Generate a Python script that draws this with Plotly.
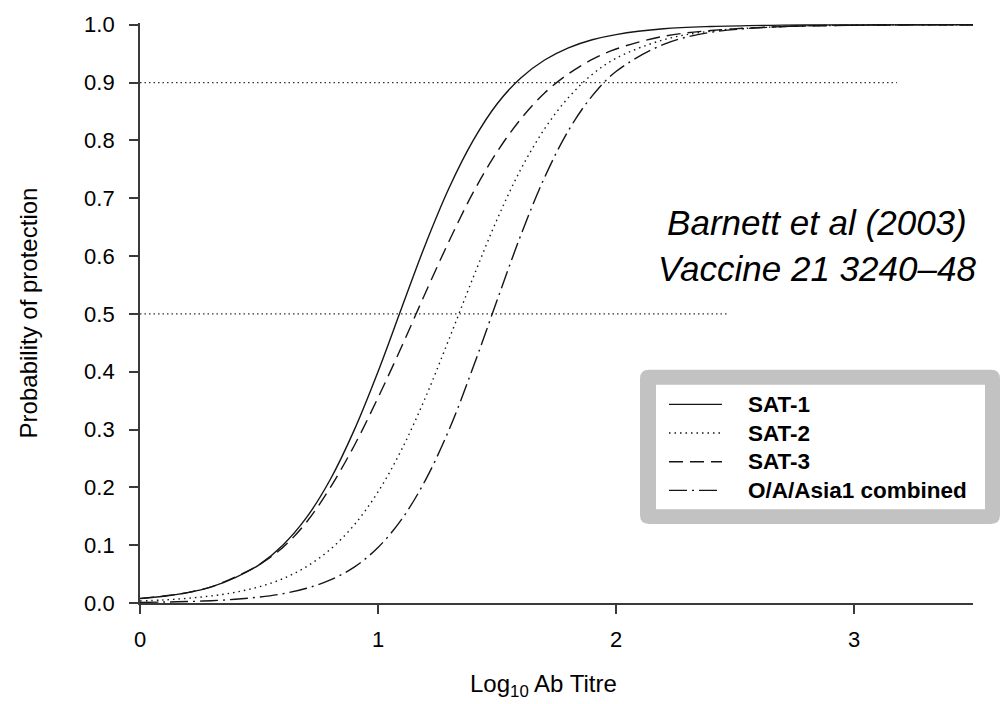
import plotly.graph_objects as go

# ---- data ----
log_titre = [0.0, 0.1, 0.2, 0.3, 0.4, 0.5, 0.6, 0.7, 0.8, 0.9, 1.0, 1.1, 1.2,
             1.3, 1.4, 1.5, 1.6, 1.7, 1.8, 1.9, 2.0, 2.2, 2.4, 2.7, 3.0, 3.5]
sat1 = [0.0075, 0.0117, 0.018, 0.028, 0.044, 0.066, 0.100, 0.148, 0.214, 0.299,
        0.400, 0.511, 0.621, 0.719, 0.800, 0.863, 0.908, 0.939, 0.960, 0.974,
        0.983, 0.993, 0.997, 0.9993, 0.9998, 1.0]
sat2 = [0.0035, 0.0053, 0.0081, 0.0123, 0.0185, 0.028, 0.042, 0.063, 0.093,
        0.135, 0.192, 0.266, 0.356, 0.458, 0.563, 0.663, 0.750, 0.820, 0.874,
        0.914, 0.942, 0.974, 0.989, 0.9968, 0.9991, 1.0]
sat3 = [0.008, 0.012, 0.018, 0.028, 0.045, 0.066, 0.096, 0.140, 0.200, 0.272,
        0.355, 0.444, 0.537, 0.627, 0.710, 0.780, 0.837, 0.882, 0.915, 0.940,
        0.958, 0.980, 0.990, 0.9968, 0.999, 1.0]
oa_asia1 = [0.001, 0.0016, 0.0025, 0.004, 0.0064, 0.0102, 0.0161, 0.0255, 0.040,
            0.062, 0.096, 0.145, 0.213, 0.301, 0.408, 0.523, 0.636, 0.736, 0.817,
            0.877, 0.919, 0.966, 0.987, 0.9967, 0.9992, 1.0]
series_names = ["SAT-1", "SAT-2", "SAT-3", "O/A/Asia1 combined"]
ref_levels = [0.9, 0.5]
ref_ends = [3.18, 2.47]
x_ticks = [0, 1, 2, 3]
y_ticks = [0.0, 0.1, 0.2, 0.3, 0.4, 0.5, 0.6, 0.7, 0.8, 0.9, 1.0]

FONT = "Liberation Sans, Arial, Helvetica, sans-serif"
INK = "#151515"
AXIS = "#3a3a3a"
dashes = ["solid", "1.5px,4px", "14px,7px", "18px,5px,2px,5px"]
series = [sat1, sat2, sat3, oa_asia1]

fig = go.Figure()

# reference probability lines
for lvl, end in zip(ref_levels, ref_ends):
    fig.add_trace(go.Scatter(x=[0, end], y=[lvl, lvl], mode="lines",
                             line=dict(color="#333333", width=1.2, dash="1.5px,3px"),
                             showlegend=False, hoverinfo="skip"))

for name, ys, d in zip(series_names, series, dashes):
    fig.add_trace(go.Scatter(x=log_titre, y=ys, mode="lines", name=name,
                             line=dict(color=INK, width=1.4, dash=d, shape="spline",
                                       smoothing=1.0),
                             showlegend=False))

# ---- plot-area geometry helpers (paper coords) ----
L, R, T, B = 140, 29, 16, 101
W, H = 1002, 704
PW, PH = W - L - R, H - T - B


def px(xp):
    return (xp - L) / PW


def py(yp):
    return (H - B - yp) / PH


shapes = []
# legend frame: rounded grey box
x0, x1, y0, y1 = px(640), px(1000), py(523), py(367)
rx, ry = 9 / PW, 9 / PH
path = (f"M {x0+rx},{y1} L {x1-rx},{y1} Q {x1},{y1} {x1},{y1-ry} "
        f"L {x1},{y0+ry} Q {x1},{y0} {x1-rx},{y0} L {x0+rx},{y0} "
        f"Q {x0},{y0} {x0},{y0+ry} L {x0},{y1-ry} Q {x0},{y1} {x0+rx},{y1} Z")
shapes.append(dict(type="path", xref="paper", yref="paper", path=path,
                   fillcolor="#c2c2c2", line=dict(width=0), layer="above"))
shapes.append(dict(type="rect", xref="paper", yref="paper",
                   x0=px(656), x1=px(985), y0=py(508), y1=py(382),
                   fillcolor="white", line=dict(width=0), layer="above"))
row_y = [402, 431, 460, 489]
annotations = []
for name, d, ry_ in zip(series_names, dashes, row_y):
    shapes.append(dict(type="line", xref="paper", yref="paper",
                       x0=px(669), x1=px(722), y0=py(ry_), y1=py(ry_),
                       line=dict(color=INK, width=1.4, dash=d), layer="above"))
    annotations.append(dict(xref="paper", yref="paper", x=px(746), y=py(ry_),
                            xanchor="left", yanchor="middle", showarrow=False,
                            text=f"<b>{name}</b>",
                            font=dict(family=FONT, size=22.5, color="#000")))

annotations.append(dict(xref="paper", yref="paper", x=px(817), y=py(241),
                        xanchor="center", yanchor="middle", showarrow=False,
                        text="<i>Barnett et al (2003)</i><br><i>Vaccine 21 3240–48</i>",
                        align="center",
                        font=dict(family=FONT, size=35, color="#000")))

# x-axis title (slightly left of plot centre, as in the reference)
annotations.append(dict(xref="paper", yref="paper", x=px(543), y=py(687),
                        xanchor="center", yanchor="middle", showarrow=False,
                        text="Log<sub>10</sub> Ab Titre",
                        font=dict(family=FONT, size=24, color="#000")))

fig.update_layout(
    width=W, height=H,
    margin=dict(l=L, r=R, t=T, b=B, pad=0),
    paper_bgcolor="white", plot_bgcolor="white",
    font=dict(family=FONT, color="#000"),
    showlegend=False,
    shapes=shapes, annotations=annotations,
    xaxis=dict(range=[0, 3.5], tickvals=x_ticks, ticktext=[str(v) for v in x_ticks],
               showgrid=False, zeroline=False, showline=True, linecolor=AXIS,
               linewidth=1.8, ticks="outside", ticklen=9, tickwidth=1.5,
               tickcolor=AXIS, tickfont=dict(size=22, family=FONT),
               ticklabelstandoff=7),
    yaxis=dict(range=[0, 1.003], tickvals=y_ticks, tickformat=".1f",
               showgrid=False, zeroline=False, showline=True, linecolor=AXIS,
               linewidth=1.8, ticks="outside", ticklen=9, tickwidth=1.5,
               tickcolor=AXIS, tickfont=dict(size=22, family=FONT),
               ticklabelstandoff=10,
               title=dict(text="Probability of protection", standoff=40,
                          font=dict(size=24, family=FONT))),
)

fig.write_html("out.html", config={"displayModeBar": False},
               post_script="document.body.style.margin='0';")
